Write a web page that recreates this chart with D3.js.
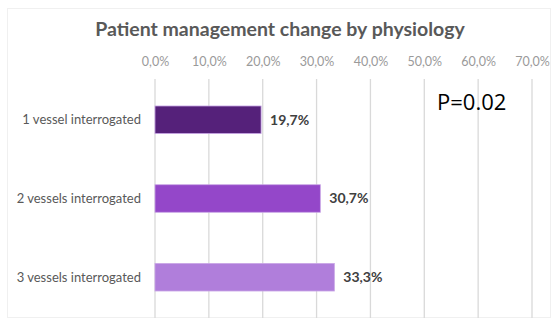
<!DOCTYPE html>
<html><head><meta charset="utf-8">
<script src="https://cdn.jsdelivr.net/npm/d3@7/dist/d3.min.js"></script>
<style>body{margin:0;background:#fff;}svg{display:block;}</style>
</head><body>
<script>
const categories = ["1 vessel interrogated", "2 vessels interrogated", "3 vessels interrogated"];
const values = [19.7, 30.7, 33.3];
const colors = ["#55217a", "#9447c9", "#b07edb"];
const ticks = [0, 10, 20, 30, 40, 50, 60, 70];
const title = "Patient management change by physiology";
const note = "P=0.02";

const W = 552, H = 326;
const svg = d3.select("body").append("svg").attr("width", W).attr("height", H);
const font = "Lato, 'Open Sans', sans-serif";

svg.append("rect").attr("x", 7.5).attr("y", 8.5).attr("width", W - 9).attr("height", H - 17)
  .attr("fill", "#fff").attr("stroke", "#f0f0f0");

const x = d3.scaleLinear().domain([0, 70]).range([155, 532]);
const y = d3.scaleBand().domain(categories).range([80, 317]).paddingInner(0.65).paddingOuter(0.33);

svg.append("text").attr("x", 280).attr("y", 36).attr("text-anchor", "middle")
  .attr("font-family", font).attr("font-weight", "bold").attr("font-size", 19.5)
  .attr("fill", "#595959").text(title);

const fmt = d => d.toFixed(1).replace(".", ",") + "%";

const ax = svg.append("g").attr("transform", "translate(0,78)")
  .call(d3.axisTop(x).tickValues(ticks).tickFormat(fmt).tickSize(0).tickPadding(12));
ax.select(".domain").remove();
ax.selectAll("text").attr("font-family", font).attr("font-size", 12.5).attr("fill", "#9a9a9a");

svg.append("g").selectAll("line").data(ticks).join("line")
  .attr("x1", d => x(d)).attr("x2", d => x(d)).attr("y1", 79).attr("y2", 318)
  .attr("stroke", "#d9d9d9").attr("stroke-width", 1.3);

svg.append("g").selectAll("rect").data(values).join("rect")
  .attr("x", x(0)).attr("y", (d, i) => y(categories[i]))
  .attr("width", d => x(d) - x(0)).attr("height", y.bandwidth())
  .attr("fill", (d, i) => colors[i]).attr("stroke", "#c9a6e6").attr("stroke-width", 0.8);

svg.append("g").selectAll("text").data(values).join("text")
  .attr("x", d => x(d) + 9).attr("y", (d, i) => y(categories[i]) + y.bandwidth() / 2)
  .attr("dy", "0.35em").attr("font-family", font).attr("font-weight", "bold")
  .attr("font-size", 14).attr("fill", "#404040").text(d => fmt(d));

svg.append("g").selectAll("text").data(categories).join("text")
  .attr("x", 141).attr("y", d => y(d) + y.bandwidth() / 2).attr("dy", "0.35em")
  .attr("text-anchor", "end").attr("font-family", font).attr("font-size", 13)
  .attr("fill", "#595959").text(d => d);

svg.append("text").attr("x", 437).attr("y", 110).attr("font-family", "'Open Sans', sans-serif")
  .attr("font-size", 22).attr("fill", "#000").text(note);
</script>
</body></html>
